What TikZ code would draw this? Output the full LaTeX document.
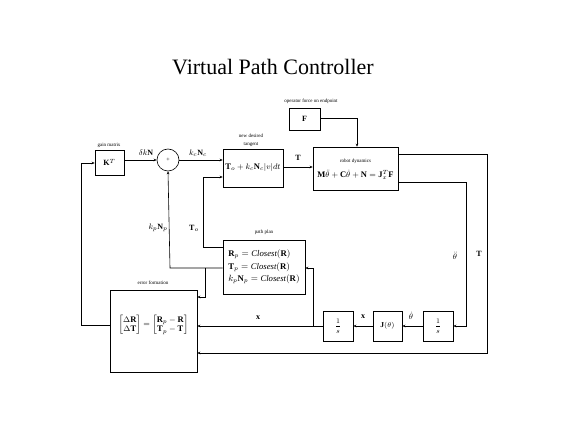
\documentclass[tikz,border=0pt]{standalone}
\usepackage{amsmath}
\usepackage{fontspec}
\setmainfont{Liberation Serif}
\usetikzlibrary{arrows.meta}
\tikzset{
  blk/.style={draw, line width=0.6pt, inner sep=0pt, fill=white},
  tiny/.style={font=\fontsize{5}{6}\selectfont, inner sep=0pt},
  lbl/.style={font=\fontsize{8}{9}\selectfont, inner sep=0pt},
  eq/.style={font=\fontsize{8.5}{10}\selectfont, inner sep=0pt},
  wire/.style={line width=0.6pt, -{Stealth[length=3pt,width=2.6pt]}},
  plain/.style={line width=0.6pt}
}
\begin{document}
\begin{tikzpicture}[x=1pt,y=-1pt]
\useasboundingbox (0,0) rectangle (570,427);
% title
\node[font=\fontsize{22}{26}\selectfont, inner sep=0pt] (title) at (273,67) {Virtual Path Controller};
% blocks
\node[blk, minimum width=29pt, minimum height=25pt] (K) at (109.5,162.5) {\fontsize{8}{9}\selectfont$\mathbf{K}^T$};
\node[tiny] (Klab) at (109,145) {gain matrix};
\node[draw, line width=0.6pt, circle, minimum size=22pt, inner sep=0pt] (sum) at (168,160) {\fontsize{6}{7}\selectfont +};
\node[blk, minimum width=60pt, minimum height=38pt] (ND) at (253,168) {\fontsize{8.5}{10}\selectfont$\mathbf{T}_o + k_c\mathbf{N}_c|v|dt$};
\node[tiny] (NDlab1) at (251,136) {new desired};
\node[tiny] (NDlab2) at (251,145) {tangent};
\node[blk, minimum width=31pt, minimum height=22pt] (F) at (304.5,119) {\fontsize{8}{9}\selectfont$\mathbf{F}$};
\node[tiny] (Flab) at (311,101) {operator force on endpoint};
\node[blk, minimum width=85pt, minimum height=43pt] (R) at (355.5,168.5) {};
\node[tiny] (Rlab) at (355.5,161) {robot dynamics};
\node[eq] (Req) at (355.5,175) {$\mathbf{M}\ddot{\theta} + \mathbf{C}\dot{\theta} + \mathbf{N} = \mathbf{J}_x^T\mathbf{F}$};
\node[blk, minimum width=30pt, minimum height=30pt] (S2) at (438,326) {\fontsize{7}{8}\selectfont$\dfrac{1}{s}$};
\node[blk, minimum width=29pt, minimum height=30pt] (J) at (387.5,326) {\fontsize{7.5}{9}\selectfont$\mathbf{J}(\theta)$};
\node[blk, minimum width=30pt, minimum height=30pt] (S1) at (338,326) {\fontsize{7}{8}\selectfont$\dfrac{1}{s}$};
\node[blk, minimum width=82pt, minimum height=54pt, align=left, font=\fontsize{8.7}{12.5}\selectfont] (P) at (264,267) {%
  $\mathbf{R}_p = \mathit{Closest}(\mathbf{R})$\\
  $\mathbf{T}_p = \mathit{Closest}(\mathbf{R})$\\
  $k_p\mathbf{N}_p = \mathit{Closest}(\mathbf{R})$};
\node[tiny] (Plab) at (264,232) {path plan};
\node[blk, minimum width=87pt, minimum height=82pt] (E) at (153.5,331) {};
\node[eq] (Eeq) at (153.5,325) {$\begin{bmatrix}\Delta\mathbf{R}\\ \Delta\mathbf{T}\end{bmatrix} = \begin{bmatrix}\mathbf{R}_p-\mathbf{R}\\ \mathbf{T}_p-\mathbf{T}\end{bmatrix}$};
\node[tiny] (Elab) at (153,283) {error formation};
% coordinates
\coordinate (c1) at (81,325);
\coordinate (c2) at (81,163);
\coordinate (c3) at (357,118);
\coordinate (c4) at (487,154);
\coordinate (c5) at (487,353);
\coordinate (c6) at (466,182);
\coordinate (c7) at (466,326);
\coordinate (j1) at (313,326);
\coordinate (c8) at (313,268);
\coordinate (c9) at (170,268);
\coordinate (j2) at (205,268);
\coordinate (c10) at (205,297);
\coordinate (c11) at (203,247);
\coordinate (c12) at (203,177);
% wires
\draw[wire] (E.west |- c1) -- (c1) -- (c2) -- (K.west |- c2);
\draw[wire] (K.east |- sum.west) -- (sum.west);
\draw[wire] (sum.east) -- (ND.west |- sum.east);
\draw[wire] (ND.east |- 0,167) -- (R.west |- 0,167);
\draw[wire] (F.east |- c3) -- (c3) -- (c3 |- R.north);
\draw[wire] (R.east |- c4) -- (c4) -- (c5) -- (E.east |- c5);
\draw[wire] (R.east |- c6) -- (c6) -- (c7) -- (S2.east);
\draw[wire] (S2.west) -- (J.east);
\draw[wire] (J.west) -- (S1.east);
\draw[wire] (S1.west) -- (E.east |- S1.west);
\draw[wire] (j1) -- (c8) -- (P.east |- c8);
\draw[wire] (P.west |- c9) -- (c9) -- (sum.south);
\draw[wire] (j2) -- (c10) -- (E.east |- c10);
\draw[wire] (P.west |- c11) -- (c11) -- (c12) -- (ND.west |- c12);
% wire labels
\node[lbl] (lk) at (146,153) {$\delta k\mathbf{N}$};
\node[lbl] (lkc) at (198,153) {$k_c\mathbf{N}_c$};
\node[lbl] (lT1) at (298,158) {$\mathbf{T}$};
\node[lbl] (lth2) at (455,256) {$\ddot{\theta}$};
\node[lbl] (lT2) at (479,254) {$\mathbf{T}$};
\node[lbl] (lth1) at (411,316) {$\dot{\theta}$};
\node[lbl] (lx1) at (363,317) {$\mathbf{x}$};
\node[lbl] (lx2) at (258,318) {$\mathbf{x}$};
\node[lbl] (lkp) at (158,228) {$k_p\mathbf{N}_p$};
\node[lbl] (lTo) at (194,228) {$\mathbf{T}_o$};
\end{tikzpicture}
\end{document}
